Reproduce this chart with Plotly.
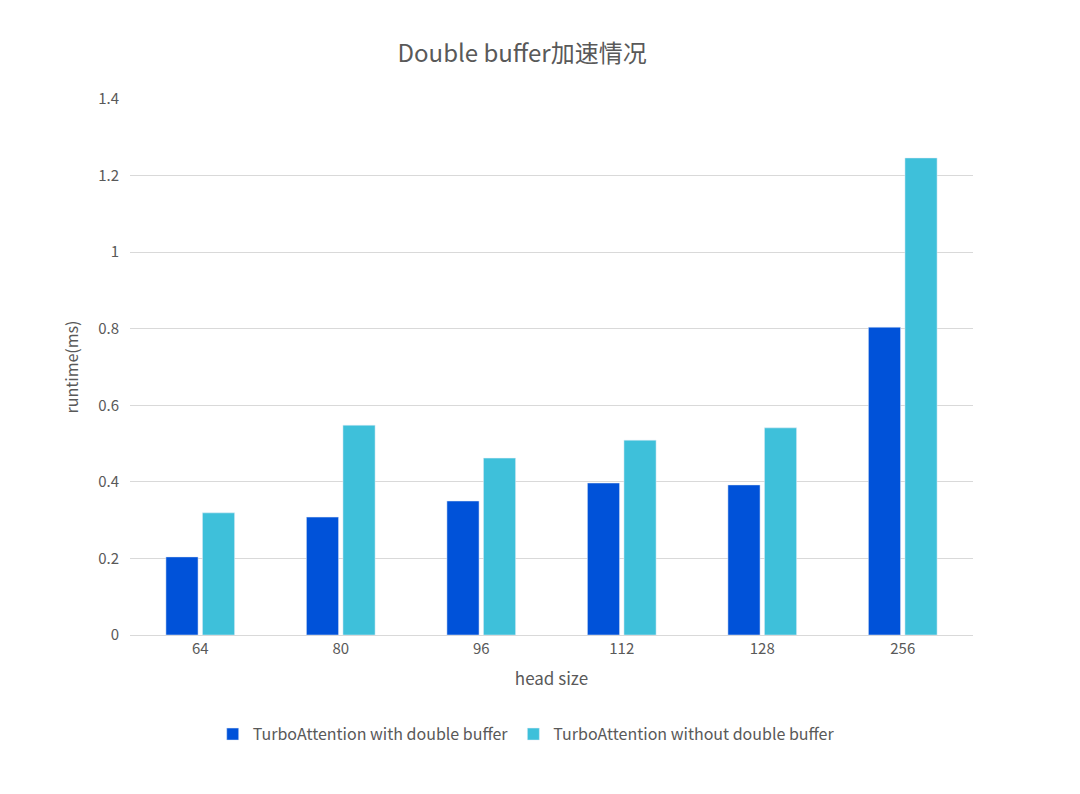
import plotly.graph_objects as go

categories = ["64", "80", "96", "112", "128", "256"]
with_db = [0.204, 0.308, 0.350, 0.397, 0.392, 0.804]
without_db = [0.319, 0.548, 0.462, 0.509, 0.541, 1.246]
series_names = ["TurboAttention with double buffer", "TurboAttention without double buffer"]

fig = go.Figure()
fig.add_trace(go.Bar(x=categories, y=with_db, name=series_names[0], marker_color="#0052D9"))
fig.add_trace(go.Bar(x=categories, y=without_db, name=series_names[1], marker_color="#3EC0DA"))

font = "Noto Sans CJK SC"
fig.update_layout(
    width=1080, height=794,
    paper_bgcolor="white", plot_bgcolor="white",
    font=dict(family=font, color="#595959", size=15),
    title=dict(text="Double buffer加速情况", x=0.476, xanchor="center", y=0.943, yanchor="middle",
               font=dict(size=24, color="#595959")),
    margin=dict(l=122, r=115, t=91, b=167),
    bargap=0.48, bargroupgap=0.12,
    legend=dict(orientation="h", x=0.47, xanchor="center", y=-0.185, yanchor="middle",
                font=dict(size=16, color="#595959")),
    xaxis=dict(title=dict(text="head size", font=dict(size=17), standoff=16),
               showline=True, linecolor="#d9d9d9", ticks=""),
    yaxis=dict(title=dict(text="runtime(ms)", font=dict(size=16)), range=[0, 1.4], dtick=0.2,
               showgrid=True, gridcolor="#d9d9d9", zeroline=False, tickformat="~g",
               ticklabelstandoff=10),
)
fig.write_html("out.html")
